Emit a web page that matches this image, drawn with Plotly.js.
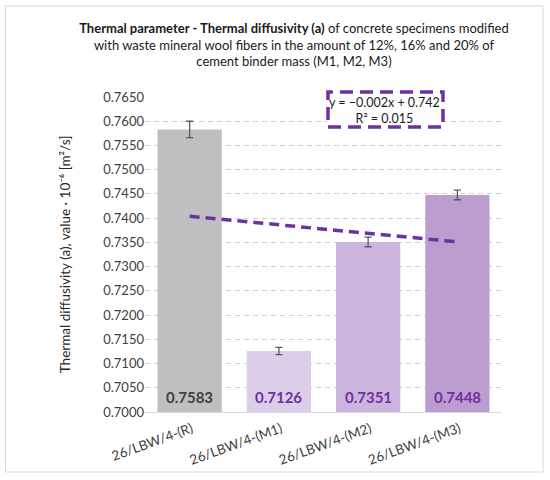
<!DOCTYPE html>
<html>
<head>
<meta charset="utf-8">
<script src="https://cdn.plot.ly/plotly-3.0.1.min.js"></script>
<style>html,body{margin:0;padding:0;background:#fff;}#chart{width:550px;height:480px;}</style>
</head>
<body>
<div id="chart"></div>
<script>
// ---- data ----
const categories = ["26/LBW/4-(R)", "26/LBW/4-(M1)", "26/LBW/4-(M2)", "26/LBW/4-(M3)"];
const values = [0.7583, 0.7126, 0.7351, 0.7448];
const errors = [0.0017, 0.00075, 0.001, 0.001];
const barColors = ["#bfbfbf", "#dccde8", "#ccb5dd", "#bb9ecf"];
const labelColors = ["#404040", "#7030a0", "#7030a0", "#7030a0"];
const trendX = ["26/LBW/4-(R)", "26/LBW/4-(M3)"];
const trendY = [0.7404, 0.7351];
const equationText = "y = −0.002x + 0.742<br>R² = 0.015";
const yTicks = [0.700, 0.705, 0.710, 0.715, 0.720, 0.725, 0.730, 0.735, 0.740, 0.745, 0.750, 0.755, 0.760, 0.765];

const FONT = "Lato, 'Open Sans', sans-serif";

const bars = {
  type: "bar",
  x: categories,
  y: values,
  marker: {color: barColors},
  width: 0.72,
  error_y: {type: "data", array: errors, visible: true, color: "#595959", thickness: 1.3, width: 3.5},
  hoverinfo: "x+y",
  showlegend: false
};

const trend = {
  type: "scatter",
  mode: "lines",
  x: trendX,
  y: trendY,
  line: {color: "#7030a0", width: 3.5, dash: "10px,6px"},
  showlegend: false,
  hoverinfo: "skip"
};

const annotations = categories.map((c, i) => ({
  x: c, y: 0.7031, xref: "x", yref: "y",
  text: "<b>" + values[i].toFixed(4) + "</b>",
  showarrow: false,
  font: {family: FONT, size: 15, color: labelColors[i]},
  xanchor: "center", yanchor: "middle"
}));
annotations.push({
  xref: "paper", yref: "paper", x: 0.672, y: 0.9587,
  text: equationText, showarrow: false,
  font: {family: FONT, size: 12.5, color: "#1a1a1a"},
  xanchor: "center", yanchor: "middle", align: "center"
});

const layout = {
  width: 550, height: 480,
  margin: {l: 145, r: 48, t: 97, b: 68},
  paper_bgcolor: "#ffffff",
  plot_bgcolor: "#ffffff",
  font: {family: FONT, color: "#404040"},
  title: {
    text: "<b>Thermal parameter - Thermal diffusivity (a)</b> of concrete specimens modified<br>with waste mineral wool fibers in the amount of 12%, 16% and 20% of<br>cement binder mass (M1, M2, M3)",
    font: {family: FONT, size: 13, color: "#1a1a1a"},
    xref: "container", x: 0.5345, xanchor: "center",
    yref: "container", y: 0.932, yanchor: "top"
  },
  xaxis: {
    type: "category",
    tickangle: -20,
    tickfont: {family: FONT, size: 13.5, color: "#404040"},
    ticklabelshift: 2,
    ticklabelstandoff: 3,
    showline: true, linecolor: "#d9d9d9", linewidth: 1,
    ticks: "", showgrid: false, zeroline: false
  },
  yaxis: {
    range: [0.7, 0.765],
    tickvals: yTicks,
    tickformat: ".4f",
    tickfont: {family: FONT, size: 13, color: "#404040"},
    showgrid: true, gridcolor: "#d0d0d0", gridwidth: 1, griddash: "5px,4px",
    zeroline: false, showline: false, ticks: "",
    title: {text: "Thermal diffusivity (a), value · 10⁻⁶ [m²/s]", font: {family: FONT, size: 13.5, color: "#262626"}, standoff: 29}
  },
  shapes: [
    {type: "rect", xref: "paper", yref: "paper", x0: -0.3908, x1: 1.1148, y0: -0.1905, y1: 1.289,
     line: {color: "#d9d9d9", width: 1}, layer: "below"},
    {type: "rect", xref: "paper", yref: "paper", x0: 0.5126, x1: 0.8347, y0: 0.9048, y1: 1.0159,
     line: {color: "#7030a0", width: 3.5, dash: "13px,7px"}, fillcolor: "rgba(255,255,255,1)", layer: "above"}
  ],
  annotations: annotations,
  bargap: 0.28
};

Plotly.newPlot("chart", [bars, trend], layout, {displayModeBar: false, staticPlot: true});
</script>
</body>
</html>
